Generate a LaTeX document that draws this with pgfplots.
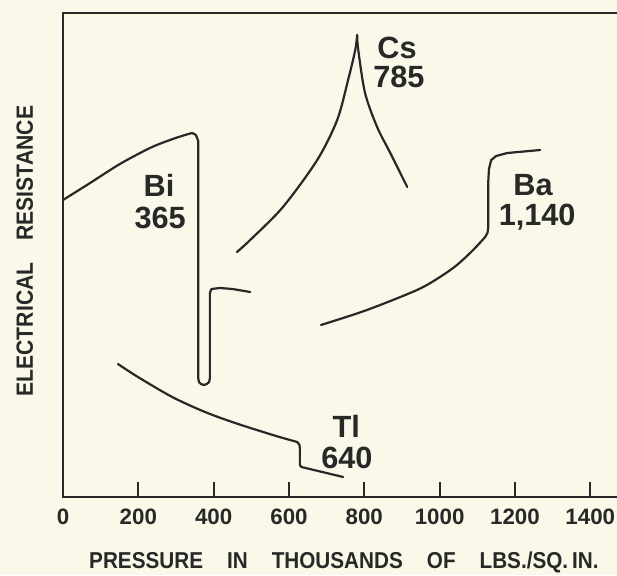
\documentclass[border=0pt]{standalone}
\usepackage{fontspec}
\setmainfont{Liberation Sans}
\newfontfamily\axfont{Liberation Sans}[FakeStretch=0.9]
\usepackage{pgfplots}
\pgfplotsset{compat=1.18}
\definecolor{paper}{RGB}{250,249,233}
\definecolor{ink}{RGB}{40,40,40}
\newcommand{\gap}{\hspace{24pt}}
\tikzset{lbl/.style={font=\bfseries\fontsize{30.7}{32}\selectfont, text=ink, inner sep=0pt,
    text height=22pt, text depth=0pt, anchor=center}}
\begin{document}
\begin{tikzpicture}
\fill[paper] (-63pt,-78pt) rectangle (554pt,497pt);
\begin{axis}[
  at={(0,0)}, anchor=south west,
  scale only axis, width=554pt, height=484pt,
  xmin=0, xmax=1471, ymin=0, ymax=484,
  axis x line*=bottom, axis y line*=left,
  ytick=\empty, xtick={0,200,...,1400},
  xtick align=inside, major tick length=15pt,
  tick style={line width=2pt, ink},
  axis line style={line width=2.2pt, ink, line cap=rect},
  /pgf/number format/assume math mode=true,
  /pgf/number format/1000 sep={},
  xticklabel style={font=\bfseries\fontsize{22.3}{24}\selectfont, text=ink,
    anchor=north, inner sep=0pt, text height=16pt, text depth=0pt, yshift=-11pt},
  xlabel={PRESSURE\gap IN\gap THOUSANDS\gap OF\gap LBS./SQ.\,IN.},
  xlabel style={at={(axis description cs:0.507,-0.1467)}, anchor=base,
    font=\axfont\bfseries\fontsize{23}{25}\selectfont, text=ink, inner sep=0pt},
  ylabel={ELECTRICAL\hspace{22pt}RESISTANCE},
  ylabel style={at={(axis description cs:-0.0542,0.508)}, anchor=base,
    font=\axfont\bfseries\fontsize{23.5}{25}\selectfont, text=ink, inner sep=0pt},
  curve/.style={ink, line width=2.2pt, line cap=round, line join=round, mark=none},
]
% Bi
\addplot[curve, smooth] coordinates {(0,297) (72,314) (151,333) (231,349) (284,357) (324,362) (343,364)};
\addplot[curve] coordinates {(343,364) (353,362) (359,356) (359,119) (361,115) (366,113) (374,112) (382,113) (388,115) (390,119) (390,204) (394,208) (417,209) (450,208) (497,205)};
% Cs
\addplot[curve, smooth] coordinates {(462,245) (497,257) (584,290) (675,337) (728,377) (757,417) (776,447) (781,462)};
\addplot[curve, smooth] coordinates {(781,462) (784,447) (802,404) (834,370) (869,344) (914,310)};
% Ba
\addplot[curve, smooth] coordinates {(685,172) (807,187) (940,207) (1001,220) (1046,232) (1089,247) (1121,260)};
\addplot[curve] coordinates {(1121,260) (1127,264) (1129,269) (1129,314) (1131,328) (1137,337) (1150,341) (1180,344) (1267,347)};
% Tl
\addplot[curve, smooth] coordinates {(146,133) (199,120) (290,100) (377,85) (457,74) (540,64) (584,59) (622,55)};
\addplot[curve] coordinates {(622,55) (628,52) (629,48) (629,32) (633,30) (744,20)};
% labels
\node[lbl] at (axis cs:255,311) {Bi};
\node[lbl] at (axis cs:258,279) {365};
\node[lbl] at (axis cs:887,449) {Cs};
\node[lbl] at (axis cs:892,420) {785};
\node[lbl] at (axis cs:1248,312) {Ba};
\node[lbl] at (axis cs:1259,282) {1,140};
\node[lbl] at (axis cs:752,71) {Tl};
\node[lbl] at (axis cs:754,40) {640};
\draw[ink, line width=2.2pt, line cap=rect] (rel axis cs:0,1) -- (rel axis cs:1.02,1);
\end{axis}
\pgfresetboundingbox
\path[use as bounding box] (-63pt,-78pt) rectangle (554pt,497pt);
\end{tikzpicture}
\end{document}
